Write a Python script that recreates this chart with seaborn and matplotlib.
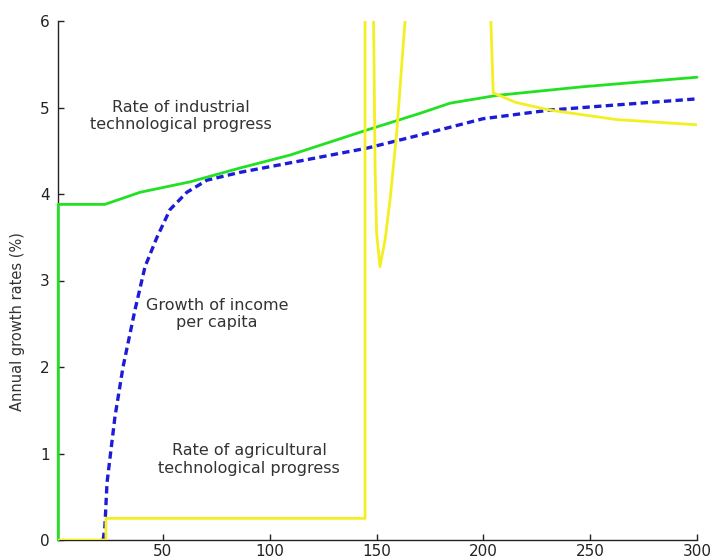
import matplotlib
matplotlib.use("Agg")
import matplotlib.pyplot as plt
import seaborn as sns
import pandas as pd

# Rate of industrial technological progress (%)
ind_t = [1.0, 1.0, 22.8, 39.3, 62.6, 86.0, 109.5, 145.5, 170.0, 184.4, 206.3, 246.6, 300.0]
ind_g = [0.0, 3.88, 3.88, 4.02, 4.14, 4.30, 4.45, 4.74, 4.93, 5.05, 5.14, 5.24, 5.35]

# Growth of income per capita (%)
inc_t = [22.0, 22.8, 23.8, 27.5, 31.3, 36.9, 41.6, 47.2, 53.3, 61.2, 70.6, 86.0,
         109.5, 145.5, 170.0, 199.8, 231.0, 262.5, 300.0]
inc_g = [0.0, 0.15, 0.66, 1.42, 2.00, 2.66, 3.16, 3.50, 3.82, 4.02, 4.16, 4.25,
         4.36, 4.53, 4.68, 4.87, 4.97, 5.03, 5.10]

# Rate of agricultural technological progress (%)
agr_t = [1.3, 23.3, 23.3, 144.6, 144.6, 148.3, 148.6, 149.3, 150.0, 151.6, 154.0,
         156.3, 159.4, 163.3, 164.0, 203.5, 203.5, 204.6, 215.0, 231.0, 262.5, 300.0]
agr_g = [0.0, 0.0, 0.25, 0.25, 9.0, 9.0, 6.0, 4.31, 3.55, 3.16, 3.47,
         3.93, 4.70, 6.0, 9.0, 9.0, 6.0, 5.17, 5.06, 4.97, 4.86, 4.80]

xticks = [50, 100, 150, 200, 250, 300]
yticks = [0, 1, 2, 3, 4, 5, 6]

sns.set_style("ticks")
plt.rcParams["font.family"] = ["DejaVu Sans"]

fig = plt.figure(figsize=(7.14, 5.6), dpi=100)
ax = fig.add_axes([58.3 / 714, 20 / 560, (697 - 58.3) / 714, 519 / 560])

industry = pd.DataFrame({"t": ind_t, "g": ind_g})
income = pd.DataFrame({"t": inc_t, "g": inc_g})
agriculture = pd.DataFrame({"t": agr_t, "g": agr_g})

sns.lineplot(data=income, x="t", y="g", ax=ax, sort=False, estimator=None,
             color="#1c1cd8", lw=2.4, linestyle=(0, (2.2, 1.3)))
sns.lineplot(data=industry, x="t", y="g", ax=ax, sort=False, estimator=None,
             color="#22e022", lw=2.0, zorder=3)
sns.lineplot(data=agriculture, x="t", y="g", ax=ax, sort=False, estimator=None,
             color="#f4ef22", lw=2.0, zorder=3.2)
# let the vertical start of the industrial curve sit over the y axis
ax.lines[1].set_clip_on(False)

ax.set_xlim(1, 300)
ax.set_ylim(0, 6)
ax.set_xticks(xticks)
ax.set_yticks(yticks)
ax.tick_params(direction="in", length=4, width=1, labelsize=11,
               colors="#222222", pad=3)
ax.tick_params(axis="y", pad=6)
for side in ("top", "right"):
    ax.spines[side].set_visible(False)
for side in ("left", "bottom"):
    ax.spines[side].set_color("#222222")
    ax.spines[side].set_linewidth(1.0)

ax.set_xlabel("")
ax.set_ylabel("Annual growth rates (%)", fontsize=10.5, color="#333333")
ax.yaxis.set_label_coords(-0.052, 0.42)

txt = dict(fontsize=11.5, color="#333333", ha="center", va="center",
           multialignment="center", linespacing=1.2)
ax.text(58.4, 4.90, "Rate of industrial\ntechnological progress", **txt)
ax.text(75.3, 2.61, "Growth of income\nper capita", **txt)
ax.text(90.3, 0.93, "Rate of agricultural\ntechnological progress", **txt)

fig.savefig("out.png", dpi=100)
